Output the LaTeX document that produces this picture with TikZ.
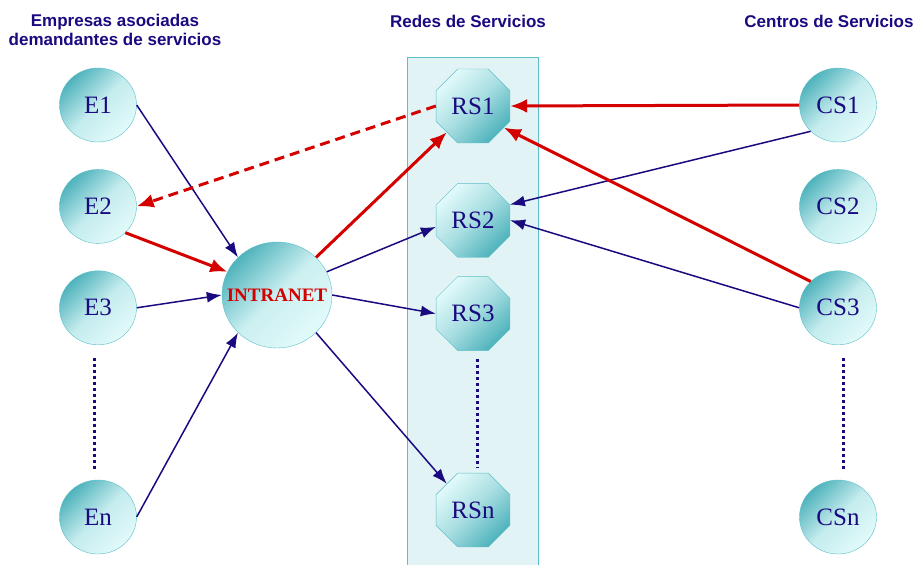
\documentclass[tikz,border=0pt]{standalone}
\usepackage{fontspec}
\setmainfont{Liberation Serif}
\setsansfont{Liberation Sans}
\usepackage{tikz}
\usepackage{xcolor}
\usetikzlibrary{shapes.geometric, arrows.meta, positioning}

\definecolor{navy}{HTML}{1A0A80}
\definecolor{tealdark}{HTML}{4FB3BC}
\definecolor{teallight}{HTML}{E2FAFA}
\definecolor{tealedge}{HTML}{5CC0C8}
\definecolor{netred}{HTML}{D40000}
\definecolor{colfill}{HTML}{E2F3F5}

\tikzset{
  company/.style={ellipse, draw=tealedge, thin, minimum width=77pt, minimum height=74pt, inner sep=0pt,
    top color=tealdark, bottom color=teallight, middle color=teallight!80!tealdark, shading angle=45,
    text=navy, font=\fontsize{25}{27}\selectfont},
  network/.style={regular polygon, regular polygon sides=8, draw=tealedge, thin, minimum size=80pt, inner sep=0pt,
    top color=teallight, bottom color=tealdark, middle color=teallight!60!tealdark, shading angle=45,
    text=navy, font=\fontsize{25}{27}\selectfont},
  hub/.style={ellipse, draw=tealedge, thin, minimum width=110pt, minimum height=106pt, inner sep=0pt,
    top color=tealdark, bottom color=teallight, middle color=teallight!85!tealdark, shading angle=45,
    text=netred, font=\fontsize{19}{21}\selectfont\bfseries},
  header/.style={text=navy, font=\sffamily\bfseries\fontsize{17}{19}\selectfont, align=center},
  link/.style={draw=navy, line width=1.5pt, -{Latex[length=15pt,width=11pt]}},
  hotlink/.style={draw=netred, line width=3pt, -{Latex[length=17pt,width=14pt]}},
  backlink/.style={hotlink, dash pattern=on 10pt off 6pt},
  gapline/.style={draw=navy, line width=3pt, dash pattern=on 3pt off 3pt}
}

\begin{document}
\begin{tikzpicture}[x=1pt, y=-1pt, node distance=27pt]
\useasboundingbox (0,0) rectangle (916,565);

% column behind the service networks
\fill[colfill] (407,57) rectangle (538,565);
\draw[tealedge] (407,565) |- (538,57) -- (538,565);

% headers
\node[header] (hempresas) at (115,30) {Empresas asociadas\\demandantes de servicios};
\node[header] (hredes) at (468,21) {Redes de Servicios};
\node[header] (hcentros) at (829,21) {Centros de Servicios};

% companies
\node[company] (e1) at (98,105) {E1};
\node[company, below=of e1] (e2) {E2};
\node[company, below=of e2] (e3) {E3};
\node[company] (en) at (98,517) {En};

% intranet
\node[hub] (intranet) at (277,295) {\makebox[0pt]{INTRANET}};

% service networks
\node[network] (rs1) at (473,106) {RS1};
\node[network, below=40pt of rs1] (rs2) {RS2};
\node[network, below=19pt of rs2] (rs3) {RS3};
\node[network] (rsn) at (473,510) {RSn};

% service centres
\node[company] (cs1) at (838,105) {CS1};
\node[company, below=of cs1] (cs2) {CS2};
\node[company, below=of cs2] (cs3) {CS3};
\node[company] (csn) at (838,517) {CSn};

% dotted gaps
\draw[gapline, shorten <=13pt, shorten >=10pt] ([xshift=-4pt]e3.south) -- ([xshift=-4pt]en.north);
\draw[gapline, shorten <=8pt, shorten >=5pt] ([xshift=4pt]rs3.south) -- ([xshift=4pt]rsn.north);
\draw[gapline, shorten <=13pt, shorten >=10pt] ([xshift=5pt]cs3.south) -- ([xshift=5pt]csn.north);

% companies to intranet
\draw[link] (e1.east) -- (intranet.north west);
\draw[hotlink] (e2.south east) -- (intranet.155);
\draw[link] (e3.east) -- (intranet.west);
\draw[link] (en.east) -- (intranet.south west);

% intranet to networks
\draw[hotlink] (intranet.north east) -- (rs1.-135);
\draw[link] (intranet.25) -- (rs2.190);
\draw[link] (intranet.east) -- (rs3.west);
\draw[link] (intranet.south east) -- (rsn.135);

% centres to networks
\draw[hotlink] (cs1.west) -- (rs1.east);
\draw[link] (cs1.south west) -- (rs2.23);
\draw[hotlink] (cs3.north west) -- (rs1.-35);
\draw[link] (cs3.west) -- (rs2.east);

% answer back to the company
\draw[backlink] (rs1.west) -- (e2.east);
\end{tikzpicture}
\end{document}
